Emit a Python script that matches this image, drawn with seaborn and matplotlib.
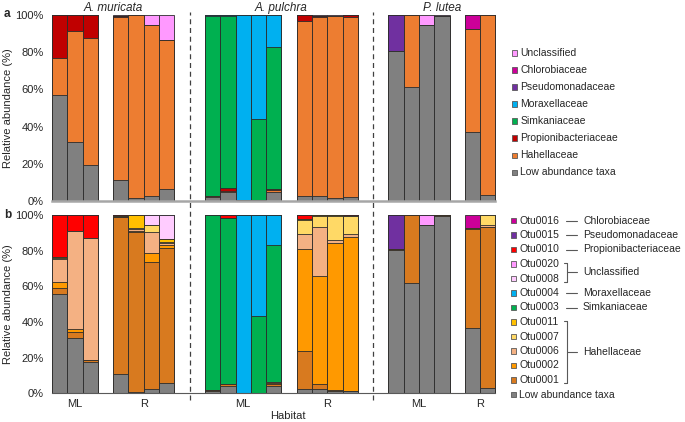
import numpy as np
import pandas as pd
import seaborn as sns
import matplotlib
import matplotlib.pyplot as plt
from matplotlib.lines import Line2D
from matplotlib.patches import Rectangle

matplotlib.use("Agg")
sns.set_theme(style="white")
plt.rcParams["font.family"] = ["Liberation Sans", "DejaVu Sans"]

# Samples: 3 species, ML and R habitats
species = ["A. muricata", "A. pulchra", "P. lutea"]
n_ml = [3, 5, 4]
n_r = [4, 4, 2]

# Panel a: family level (%), one value per bar, left to right
fam_names = ["Low abundance taxa", "Hahellaceae", "Propionibacteriaceae", "Simkaniaceae",
             "Moraxellaceae", "Pseudomonadaceae", "Chlorobiaceae", "Unclassified"]
fam_colors = ["#808080", "#ED7D31", "#C00000", "#00B050",
              "#00B0F0", "#7030A0", "#CC0099", "#FF99FF"]
a_low = [57.0, 31.5, 19.4, 11.1, 1.4, 2.9, 6.3, 2.0, 4.7, 0.3, 0.3, 5.0, 2.9, 2.9, 1.4, 2.0, 80.5, 61.1, 94.4, 99.5, 36.9, 3.2]
a_hahella = [20.1, 60.1, 68.1, 87.6, 98.6, 91.5, 80.3, 0.7, 0.8, 0, 0, 1.0, 94.1, 96.0, 98.0, 96.7, 0, 38.9, 0, 0, 55.4, 96.8]
a_propion = [22.9, 8.4, 12.5, 0.7, 0, 0.3, 0, 0, 1.3, 0, 0, 0.6, 3.0, 0.8, 0.3, 1.3, 0, 0, 0, 0, 0, 0]
a_simkan = [0, 0, 0, 0, 0, 0, 0, 97.0, 92.7, 0, 43.6, 76.4, 0, 0, 0, 0, 0, 0, 0, 0, 0, 0]
a_moraxella = [0, 0, 0, 0, 0, 0, 0, 0.3, 0.5, 99.7, 56.1, 17.0, 0, 0, 0, 0, 0, 0, 0, 0, 0, 0]
a_pseudo = [0, 0, 0, 0, 0, 0, 0, 0, 0, 0, 0, 0, 0, 0, 0, 0, 19.5, 0, 0, 0, 0, 0]
a_chloro = [0, 0, 0, 0, 0, 0, 0, 0, 0, 0, 0, 0, 0, 0, 0, 0, 0, 0, 0, 0, 7.7, 0]
a_unclass = [0, 0, 0, 0.6, 0, 5.3, 13.4, 0, 0, 0, 0, 0, 0, 0.3, 0.3, 0, 0, 0, 5.6, 0.5, 0, 0]

# Panel b: OTU level (%)
otu_names = ["Low abundance taxa", "Otu0001", "Otu0002", "Otu0006", "Otu0007", "Otu0011",
             "Otu0003", "Otu0004", "Otu0008", "Otu0020", "Otu0010", "Otu0015", "Otu0016"]
otu_colors = ["#808080", "#D87A1F", "#FF9900", "#F4B183", "#FFD966", "#FFC000",
              "#00B050", "#00B0F0", "#FFCCFF", "#FF99FF", "#FF0000", "#7030A0", "#CC0099"]
b_low = [55.5, 30.8, 17.8, 10.8, 0.9, 2.2, 5.6, 1.5, 4.3, 0.3, 0.3, 4.3, 2.4, 2.4, 1.1, 1.1, 80.4, 61.7, 94.4, 99.5, 36.8, 2.8]
otu0001 = [3.6, 3.8, 0.9, 88.3, 89.4, 71.6, 76.1, 0.5, 1.0, 0, 0, 0.7, 21.2, 2.9, 0.8, 0.4, 0.7, 38.3, 0, 0.5, 55.4, 90.3]
otu0002 = [3.5, 1.2, 0, 0, 0.8, 4.7, 1.5, 0, 0, 0, 0, 0.6, 57.6, 60.4, 82.5, 85.9, 0, 0, 0, 0, 0.5, 0]
otu0006 = [12.5, 55.4, 68.6, 0, 0.8, 12.2, 1.0, 0, 0, 0, 0, 0.6, 8.1, 27.4, 1.5, 2.2, 0, 0, 0, 0, 0, 1.2]
otu0007 = [0.6, 0, 0, 0, 0.6, 3.7, 0.8, 0, 0, 0, 0, 0, 7.9, 6.3, 13.7, 9.8, 0, 0, 0, 0, 0, 5.7]
otu0011 = [0.6, 0, 0, 0.4, 7.5, 0, 1.4, 0, 0, 0, 0, 0, 0.6, 0.6, 0.4, 0, 0, 0, 0, 0, 0, 0]
otu0003 = [0, 0, 0, 0, 0, 0, 0, 98.0, 92.8, 0, 42.9, 76.9, 0, 0, 0, 0, 0, 0, 0, 0, 0, 0]
otu0004 = [0, 0, 0, 0, 0, 0, 0, 0, 0.4, 99.7, 56.8, 16.9, 0, 0, 0, 0, 0, 0, 0, 0, 0, 0]
otu0008 = [0, 0, 0, 0, 0, 5.6, 13.6, 0, 0, 0, 0, 0, 0, 0, 0, 0, 0, 0, 0, 0, 0, 0]
otu0020 = [0, 0, 0, 0, 0, 0, 0, 0, 0, 0, 0, 0, 0, 0, 0, 0, 0, 0, 5.6, 0, 0, 0]
otu0010 = [23.7, 8.8, 12.7, 0.5, 0, 0, 0, 0, 1.5, 0, 0, 0, 2.2, 0, 0, 0.6, 0, 0, 0, 0, 0, 0]
otu0015 = [0, 0, 0, 0, 0, 0, 0, 0, 0, 0, 0, 0, 0, 0, 0, 0, 18.9, 0, 0, 0, 0, 0]
otu0016 = [0, 0, 0, 0, 0, 0, 0, 0, 0, 0, 0, 0, 0, 0, 0, 0, 0, 0, 0, 0, 7.3, 0]

fam_layers = [a_low, a_hahella, a_propion, a_simkan, a_moraxella, a_pseudo, a_chloro, a_unclass]
otu_layers = [b_low, otu0001, otu0002, otu0006, otu0007, otu0011, otu0003, otu0004,
              otu0008, otu0020, otu0010, otu0015, otu0016]

# Bar positions: groups touching, 1 slot between ML and R, 2 slots between species
pos, tick_pos, tick_lab, sp_center, seps = [], [], [], [], []
x = 0
for i, sp in enumerate(species):
    ml = list(range(x, x + n_ml[i]))
    x += n_ml[i] + 1
    r = list(range(x, x + n_r[i]))
    x += n_r[i]
    pos += ml + r
    tick_pos += [np.mean(ml), np.mean(r)]
    tick_lab += ["ML", "R"]
    sp_center.append((ml[0] + r[-1]) / 2)
    if i < len(species) - 1:
        seps.append(x + 0.5)
        x += 2
pos = np.array(pos, dtype=float)

W, H = 685, 422
fig = plt.figure(figsize=(W / 100, H / 100), dpi=100)


def fx(px):
    return px / W


def fy(py):
    return 1 - py / H


ax_a = fig.add_axes([fx(52), fy(201), (495.5 - 52) / W, 186 / H])
ax_b = fig.add_axes([fx(52), fy(393.3), (495.5 - 52) / W, 178.3 / H])


def stacked(ax, layers, colors):
    cum = np.cumsum(np.array(layers, dtype=float), axis=0)
    for i in reversed(range(len(layers))):
        sns.barplot(x=pos, y=cum[i], native_scale=True, width=1, orient="x",
                    color=colors[i], saturation=1, edgecolor="#2b2b2b",
                    linewidth=0.6, errorbar=None, ax=ax)
    for p in ax.patches:
        p.set_clip_on(False)


stacked(ax_a, fam_layers, fam_colors)
stacked(ax_b, otu_layers, otu_colors)

for ax in (ax_a, ax_b):
    ax.set_xlim(-0.5, pos.max() + 0.5)
    ax.set_ylim(0, 100)
    ax.set_yticks(range(0, 101, 20))
    ax.set_yticklabels([f"{v}%" for v in range(0, 101, 20)], fontsize=8, color="#262626")
    ax.tick_params(axis="both", length=0, pad=6)
    for s in ("left", "top", "right"):
        ax.spines[s].set_visible(False)
    ax.set_xlabel("")
    ax.set_ylabel("")

ax_a.spines["bottom"].set_color("#A6A6A6")
ax_a.spines["bottom"].set_linewidth(1.8)
ax_a.set_xticks([])
ax_b.spines["bottom"].set_color("#595959")
ax_b.spines["bottom"].set_linewidth(0.8)
ax_b.set_xticks(tick_pos)
ax_b.set_xticklabels(tick_lab, fontsize=8, color="#262626")
ax_b.tick_params(axis="x", pad=4)

for s in seps:
    ax_b.axvline(s, ymin=-0.04, ymax=(393.3 - 12) / 178.3, clip_on=False,
                 color="#404040", lw=0.9, dashes=(4, 3))

for sp, c in zip(species, sp_center):
    ax_a.text(c, 104, sp, ha="center", va="center", fontsize=8.5, style="italic", color="#262626")

fig.text(fx(4), fy(14), "a", fontsize=8.5, fontweight="bold", va="center")
fig.text(fx(4), fy(215), "b", fontsize=8.5, fontweight="bold", va="center")
fig.text(fx(8), fy(108), "Relative abundance (%)", rotation=90, fontsize=8,
         ha="center", va="center", color="#262626")
fig.text(fx(8), fy(304), "Relative abundance (%)", rotation=90, fontsize=8,
         ha="center", va="center", color="#262626")
fig.text(fx(288), fy(416), "Habitat", fontsize=8, ha="center", va="center", color="#262626")


def swatch(px, py, color):
    fig.add_artist(Rectangle((fx(px - 2.8), fy(py + 2.8)), 5.6 / W, 5.6 / H,
                             transform=fig.transFigure, facecolor=color,
                             edgecolor="#595959", lw=0.6))


def seg(x1, y1, x2, y2):
    fig.add_artist(Line2D([fx(x1), fx(x2)], [fy(y1), fy(y2)], transform=fig.transFigure,
                          color="#595959", lw=0.8))


# legend a (top to bottom)
for k, i in enumerate(reversed(range(len(fam_names)))):
    y = 52.7 + 17.1 * k
    swatch(514.5, y, fam_colors[i])
    fig.text(fx(520.5), fy(y), fam_names[i], fontsize=7.5, va="center", color="#262626")

# legend b (top to bottom)
row_y = {}
for k, i in enumerate(reversed(range(len(otu_names)))):
    y = 220.5 + 14.5 * k
    row_y[otu_names[i]] = y
    swatch(513.5, y, otu_colors[i])
    fig.text(fx(519), fy(y), otu_names[i], fontsize=7.5, va="center", color="#262626")

single = {"Otu0016": "Chlorobiaceae", "Otu0015": "Pseudomonadaceae",
          "Otu0010": "Propionibacteriaceae", "Otu0004": "Moraxellaceae",
          "Otu0003": "Simkaniaceae"}
for otu, fam in single.items():
    y = row_y[otu]
    seg(566, y, 577, y)
    fig.text(fx(583), fy(y), fam, fontsize=7.5, va="center", color="#262626")

brackets = [("Otu0020", "Otu0008", "Unclassified"), ("Otu0011", "Otu0001", "Hahellaceae")]
for top, bot, fam in brackets:
    y1, y2 = row_y[top] - 1, row_y[bot] + 3
    xm = 567
    seg(xm - 3, y1, xm, y1)
    seg(xm, y1, xm, y2)
    seg(xm - 3, y2, xm, y2)
    ym = (y1 + y2) / 2
    seg(xm, ym, xm + 10, ym)
    fig.text(fx(583), fy(ym), fam, fontsize=7.5, va="center", color="#262626")

fig.savefig("out.png", dpi=100)
